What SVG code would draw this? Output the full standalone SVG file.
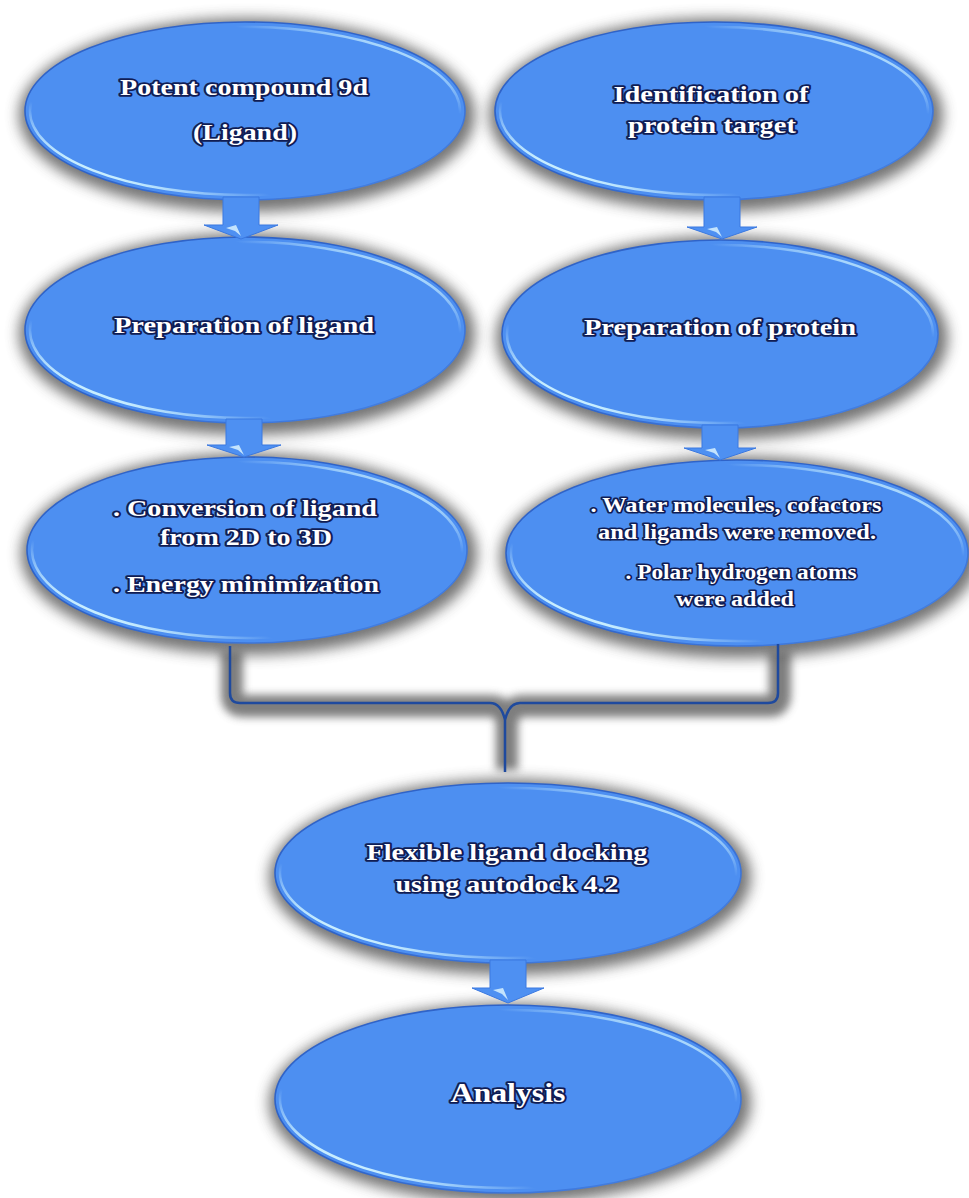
<svg xmlns="http://www.w3.org/2000/svg" width="969" height="1198" viewBox="0 0 969 1198">
<defs>
<filter id="blur" x="-30%" y="-30%" width="160%" height="160%"><feGaussianBlur stdDeviation="7"/></filter>
<filter id="blur2" x="-30%" y="-30%" width="160%" height="160%"><feGaussianBlur stdDeviation="4.5"/></filter>
<linearGradient id="hl" x1="1" y1="0" x2="0" y2="1">
<stop offset="0.15" stop-color="#bfe8ff" stop-opacity="0.8"/>
<stop offset="0.26" stop-color="#bfe8ff" stop-opacity="0"/>
<stop offset="0.72" stop-color="#bfe8ff" stop-opacity="0"/>
<stop offset="0.85" stop-color="#c8eeff" stop-opacity="1"/>
</linearGradient>
<linearGradient id="rim" x1="0" y1="0" x2="1" y2="1">
<stop offset="0" stop-color="#2f63c8"/>
<stop offset="0.5" stop-color="#2f63c8"/>
<stop offset="1" stop-color="#4a88ea"/>
</linearGradient>
</defs>
<style>
.sh{fill:#666666;opacity:0.9;filter:url(#blur)}
.el{fill:#4d8ff1;stroke:url(#rim);stroke-width:1.6}
.hl{fill:none;stroke:url(#hl);stroke-width:2.5}
.t{font-family:"Liberation Serif","Times New Roman",serif;font-weight:bold;fill:#ffffff;stroke:#101d55;stroke-width:3.6;paint-order:stroke;stroke-linejoin:round;text-anchor:middle}
.s22{font-size:23px}
.s19{font-size:20px;stroke-width:3.2}
.s26{font-size:27px}
.arr{fill:#4e90f2;stroke:#3a78e0;stroke-width:1}
.glint{fill:#d8f2ff;opacity:0.85}
.brk{fill:none;stroke:#1f4a9e;stroke-width:2.5}
.brksh{fill:none;stroke:#686868;stroke-width:22;filter:url(#blur2);opacity:0.85}
</style>
<rect width="969" height="1198" fill="#ffffff"/>
<g id="shadows">
<ellipse class="sh" cx="247" cy="115" rx="228" ry="97"/>
<ellipse class="sh" cx="716" cy="115" rx="227" ry="97"/>
<ellipse class="sh" cx="247" cy="334" rx="228" ry="101"/>
<ellipse class="sh" cx="722" cy="338" rx="226" ry="102"/>
<ellipse class="sh" cx="249" cy="554" rx="228" ry="101"/>
<ellipse class="sh" cx="739" cy="557" rx="239" ry="101"/>
<ellipse class="sh" cx="510" cy="877" rx="241" ry="98"/>
<ellipse class="sh" cx="510" cy="1103" rx="241" ry="100"/>
<path class="brksh" d="M232,650 V695 Q232,706 243,706 H492 Q503,706 507,722 V770 M507,722 Q511,706 522,706 H770 Q780,706 780,695 V650"/>
</g>
<g id="n1"><ellipse class="el" cx="245" cy="111" rx="220" ry="89"/><ellipse class="hl" cx="245" cy="111" rx="215" ry="84"/>
<text class="t s22" x="244" y="95" textLength="248" lengthAdjust="spacingAndGlyphs">Potent compound 9d</text>
<text class="t s22" x="245" y="140" textLength="104" lengthAdjust="spacingAndGlyphs">(Ligand)</text></g>
<g id="n2"><ellipse class="el" cx="714" cy="111" rx="219" ry="89"/><ellipse class="hl" cx="714" cy="111" rx="214" ry="84"/>
<text class="t s22" x="711" y="102" textLength="195" lengthAdjust="spacingAndGlyphs">Identification of</text>
<text class="t s22" x="712" y="133" textLength="168" lengthAdjust="spacingAndGlyphs">protein target</text></g>
<g id="n3"><ellipse class="el" cx="245" cy="330" rx="220" ry="93"/><ellipse class="hl" cx="245" cy="330" rx="215" ry="88"/>
<text class="t s22" x="244" y="333" textLength="260" lengthAdjust="spacingAndGlyphs">Preparation of ligand</text></g>
<g id="n4"><ellipse class="el" cx="720" cy="334" rx="218" ry="94"/><ellipse class="hl" cx="720" cy="334" rx="213" ry="89"/>
<text class="t s22" x="720" y="335" textLength="272" lengthAdjust="spacingAndGlyphs">Preparation of protein</text></g>
<g id="n5"><ellipse class="el" cx="247" cy="550" rx="220" ry="93"/><ellipse class="hl" cx="247" cy="550" rx="215" ry="88"/>
<text class="t s22" x="245" y="516" textLength="264" lengthAdjust="spacingAndGlyphs">. Conversion of ligand</text>
<text class="t s22" x="246" y="545" textLength="172" lengthAdjust="spacingAndGlyphs">from 2D to 3D</text>
<text class="t s22" x="246" y="592" textLength="266" lengthAdjust="spacingAndGlyphs">. Energy minimization</text></g>
<g id="n6"><ellipse class="el" cx="737" cy="553" rx="231" ry="93"/><ellipse class="hl" cx="737" cy="553" rx="226" ry="88"/>
<text class="t s19" x="736" y="512" textLength="291" lengthAdjust="spacingAndGlyphs">. Water molecules, cofactors</text>
<text class="t s19" x="737" y="539" textLength="278" lengthAdjust="spacingAndGlyphs">and ligands were removed.</text>
<text class="t s19" x="741" y="579" textLength="231" lengthAdjust="spacingAndGlyphs">. Polar hydrogen atoms</text>
<text class="t s19" x="735" y="606" textLength="118" lengthAdjust="spacingAndGlyphs">were added</text></g>
<g id="n7"><ellipse class="el" cx="508" cy="873" rx="233" ry="90"/><ellipse class="hl" cx="508" cy="873" rx="228" ry="85"/>
<text class="t s22" x="507" y="860" textLength="281" lengthAdjust="spacingAndGlyphs">Flexible ligand docking</text>
<text class="t s22" x="507" y="892" textLength="223" lengthAdjust="spacingAndGlyphs">using autodock 4.2</text></g>
<g id="n8"><ellipse class="el" cx="508" cy="1099" rx="233" ry="94"/><ellipse class="hl" cx="508" cy="1099" rx="228" ry="89"/>
<text class="t s26" x="508" y="1102" textLength="115" lengthAdjust="spacingAndGlyphs">Analysis</text></g>
<g id="connectors">
<path class="arr" d="M223,197 H259 V225 H278 L241,239 L204,225 H223 Z"/>
<path class="glint" d="M226,228 L236,225 L241,236 L235,231 Z"/>
<path class="arr" d="M704,197 H740 V227 H757 L722,239 L687,227 H704 Z"/>
<path class="glint" d="M707,229 L717,227 L722,237 L716,232 Z"/>
<path class="arr" d="M226,419 H262 V445 H281 L244,457 L207,445 H226 Z"/>
<path class="glint" d="M229,447 L239,445 L244,455 L238,450 Z"/>
<path class="arr" d="M702,425 H738 V448 H756 L720,460 L684,448 H702 Z"/>
<path class="glint" d="M705,450 L715,448 L720,458 L714,453 Z"/>
<path class="arr" d="M490,960 H526 V988 H544 L508,1003 L472,988 H490 Z"/>
<path class="glint" d="M493,990 L503,988 L508,1000 L502,994 Z"/>
<path class="brk" d="M230,646 V693 Q230,703 240,703 H490 Q501,703 505,720 V772 M505,720 Q509,703 520,703 H768 Q778,703 778,693 V644"/>
</g>
</svg>
